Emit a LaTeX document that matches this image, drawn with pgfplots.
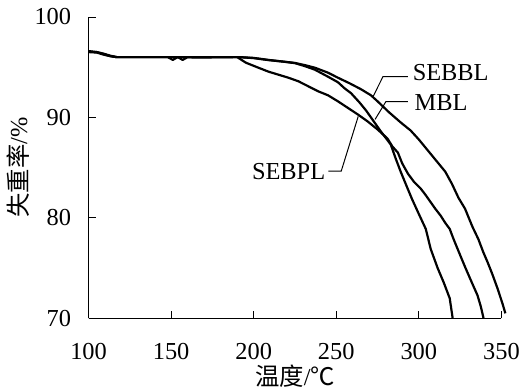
\documentclass[border=0pt]{standalone}
\usepackage{fontspec}
\setmainfont{Liberation Serif}
\newfontfamily\cjk{Noto Sans CJK SC}
\usepackage{pgfplots}
\pgfplotsset{compat=1.18}

\pgfplotstableread{
x y
100 96.55
105 96.5
109 96.3
113 96.1
117 96.0
150 96.0
191 96.0
200 95.92
209 95.72
218 95.55
225 95.42
231 95.2
237 94.95
245 94.45
251 93.95
258 93.4
265 92.8
271 92.2
275 91.6
282 90.5
289 89.5
295 88.7
300 87.8
305 86.8
310 85.8
316 84.6
320 83.4
324 82.0
328 80.9
332.5 79.1
336 77.9
339 76.6
341.6 75.6
344.5 74.4
347.6 73.0
350.6 71.5
352.4 70.5
}\sebbl

\pgfplotstableread{
x y
100 96.6
105 96.5
109 96.35
113 96.15
117 96.0
150 96.0
191 96.0
200 95.9
209 95.7
218 95.55
225 95.4
231 95.1
237 94.75
245 94.05
251 93.5
255 92.9
259 92.4
264 91.5
268 90.7
271 90.0
274 89.3
277 88.6
280 87.95
283 87.3
286 85.9
289 84.6
292 83.4
295.8 81.9
299.4 80.6
304.2 78.9
307.2 76.9
311.4 75.0
315 73.6
318.7 72.0
320.5 70.0
}\mbl

\pgfplotstableread{
x y
100 96.5
105 96.45
109 96.25
113 96.1
117 96.0
148 96.0
151 95.72
154 96.0
157 95.72
160 96.0
164 95.95
190 96.0
195.2 95.45
202 95.0
209 94.55
215 94.25
221 93.95
227 93.6
233 93.1
239 92.6
245 92.2
251 91.6
257 90.95
263 90.3
269 89.6
275 88.8
281 87.9
284 87.1
287.3 86.5
290 85.4
293.4 84.4
297 83.6
301.2 82.9
304 82.3
307 81.6
310 80.9
313.3 80.2
316 79.5
318.7 78.9
321 77.9
323.5 76.9
326 75.9
328.3 75.0
332 73.6
335.5 72.3
337.5 71.2
339.2 70.0
}\sebpl

\begin{document}
\begin{tikzpicture}[font=\fontsize{24.5}{28}\selectfont]
\begin{axis}[
  scale only axis, width=415pt, height=303pt,
  xmin=100, xmax=350, ymin=70, ymax=100,
  axis lines=left,
  axis line style={-, line width=1.3pt, black},
  xtick={100,150,200,250,300,350},
  ytick={70,80,90,100},
  tick align=inside,
  major tick length=7pt,
  tick style={line width=0.8pt, black},
  /pgf/number format/assume math mode=true,
  /pgf/number format/1000 sep={},
  xticklabel style={yshift=-22pt},
  yticklabel style={xshift=-14pt},
  xlabel={{\cjk 温度}/{\cjk ℃}},
  ylabel={{\cjk 失重率}/\%},
  xlabel style={at={(axis description cs:0.5,-0.1914)}, anchor=center},
  ylabel style={at={(axis description cs:-0.1711,0.5)}, anchor=center},
  clip=false,
]
\addplot[black, line width=2.2pt, line join=round] table[x=x,y=y] {\sebbl};
\addplot[black, line width=2.2pt, line join=round] table[x=x,y=y] {\mbl};
\addplot[black, line width=2.2pt, line join=round] table[x=x,y=y] {\sebpl};

\draw[line width=1pt] (axis cs:293.4,94.06) -- (axis cs:278.3,94.06) -- (axis cs:272.3,92.08);
\node[anchor=west, inner sep=1pt] at (axis cs:295.6,94.5) {SEBBL};
\draw[line width=1pt] (axis cs:293.4,91.58) -- (axis cs:280.1,91.58) -- (axis cs:273.5,89.8);
\node[anchor=west, inner sep=1pt] at (axis cs:296.8,91.45) {MBL};
\draw[line width=1pt] (axis cs:245.2,84.65) -- (axis cs:253,84.65) -- (axis cs:263.3,90.1);
\node[anchor=east, inner sep=1pt] at (axis cs:244.0,84.65) {SEBPL};

\coordinate (O) at (rel axis cs:0,0);
\end{axis}
\path (O) ++(-89pt,-74pt) rectangle ++(523pt,394pt);
\end{tikzpicture}
\end{document}
